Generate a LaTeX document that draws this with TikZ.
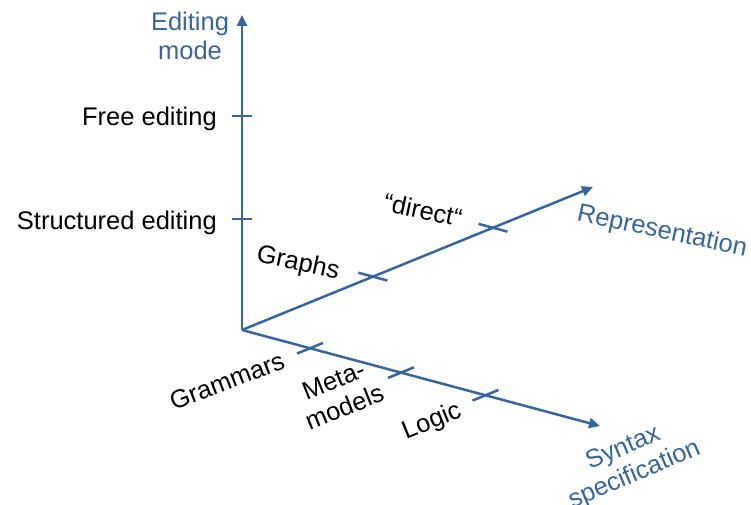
\documentclass[tikz,border=0pt]{standalone}
\usepackage{fontspec}
\setmainfont{Liberation Sans}
\usetikzlibrary{arrows.meta,calc}
\definecolor{axisblue}{RGB}{55,101,157}
\tikzset{
  axis/.style={draw=axisblue, line width=2.5pt, -{Triangle[length=11pt,width=10pt]}},
  tick/.style={draw=axisblue, line width=2.5pt},
  lbl/.style={font=\fontsize{25.5}{29}\selectfont, text=black, inner sep=0pt},
  axlbl/.style={font=\fontsize{25.5}{29}\selectfont, text=axisblue, inner sep=0pt, align=center}
}
\begin{document}
\begin{tikzpicture}[x=1pt, y=1pt]
            \useasboundingbox (0,0) rectangle (751,505);

            \coordinate (o)   at (242, 175);
            \coordinate (top) at (242, 490);
            \coordinate (rep) at (593, 318);
            \coordinate (syn) at (600, 79);

            \draw[axis] (o) -- (top);
            \draw[axis] (o) -- (rep);
            \draw[axis] (o) -- (syn);

            % ticks
            \coordinate (free)   at (242, 389);
            \coordinate (struct) at (242, 286);
            \coordinate (graphs) at ($(o)!0.373!(rep)$);
            \coordinate (direct) at ($(o)!0.715!(rep)$);
            \coordinate (gram)   at ($(o)!0.19!(syn)$);
            \coordinate (meta)   at ($(o)!0.444!(syn)$);
            \coordinate (logic)  at ($(o)!0.68!(syn)$);

            \foreach \t in {free, struct}
                \draw[tick] ($(\t)+(-10,0)$) -- ($(\t)+(10,0)$);
            \foreach \t in {graphs, direct}
                \draw[tick] ($(\t)+(-14.5,3.9)$) -- ($(\t)+(14.5,-3.9)$);
            \foreach \t in {gram, meta, logic}
                \draw[tick] ($(\t)+(-13,-5.3)$) -- ($(\t)+(13,5.3)$);

            % labels
            \node[axlbl] (modelbl) at (190, 469) {Editing\\mode};
            \node[lbl, anchor=base east] (freelbl)   at (217, 379) {Free editing};
            \node[lbl, anchor=base east] (structlbl) at (217, 275) {Structured editing};
            \node[lbl, rotate=-12] (graphslbl) at (298, 241) {Graphs};
            \node[lbl, rotate=-12] (directlbl) at (423, 295) {“direct“};
            \node[axlbl, rotate=-12] (replbl) at (662, 273) {Representation};
            \node[lbl, rotate=21] (gramlbl) at (227, 124) {Grammars};
            \node[lbl, rotate=22, align=center] (metalbl) at (339, 111) {Meta-\\models};
            \node[lbl, rotate=22] (logiclbl) at (432, 83) {Logic};
            \node[axlbl, rotate=23] (synlbl) at (629, 43) {Syntax\\specification};
\end{tikzpicture}
\end{document}
